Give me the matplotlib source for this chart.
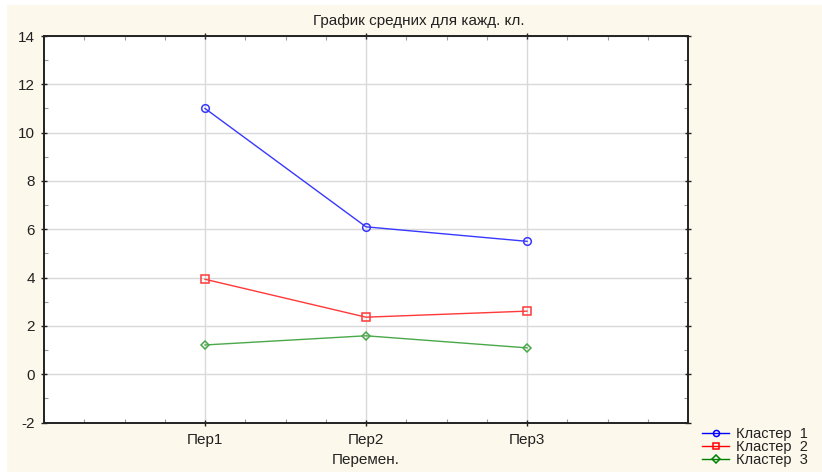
import matplotlib
matplotlib.use('Agg')
import matplotlib.pyplot as plt
from matplotlib.patches import Rectangle
from matplotlib.ticker import MultipleLocator

plt.rcParams['font.family'] = ['Liberation Sans', 'DejaVu Sans']
plt.rcParams['axes.unicode_minus'] = False

# data
variables = ['Пер1', 'Пер2', 'Пер3']
cluster1 = [11.0, 6.1, 5.5]
cluster2 = [3.93, 2.36, 2.61]
cluster3 = [1.21, 1.59, 1.09]
labels = ['Кластер  1', 'Кластер  2', 'Кластер  3']

fs = 11

fig = plt.figure(figsize=(8.22, 4.72), dpi=100, facecolor='white')
# cream panel behind everything
fig.patches.append(Rectangle((7/822, 0), 1, 1 - 5/472, transform=fig.transFigure,
                             facecolor='#fdf8ec', edgecolor='none', zorder=-10))

ax = fig.add_axes([44/822, (472-422.5)/472, (688-44)/822, (422.5-36)/472])
ax.set_facecolor('white')

xs = [1, 2, 3]
ax.plot(xs, cluster1, color='#3838ff', lw=1, marker='o', ms=5.5, mfc='none', mew=1.1, label=labels[0])
ax.plot(xs, cluster2, color='#ff3838', lw=1, marker='s', ms=5.5, mfc='none', mew=1.1, label=labels[1])
ax.plot(xs, cluster3, color='#4aa84a', lw=1, marker='D', ms=4.5, mfc='none', mew=1.1, label=labels[2])

ax.set_xlim(0, 4)
ax.set_ylim(-2, 14)
ax.set_xticks(xs)
ax.set_xticklabels(variables)
ax.set_yticks(range(-2, 15, 2))
ax.xaxis.set_minor_locator(MultipleLocator(0.25))
ax.yaxis.set_minor_locator(MultipleLocator(1))
ax.grid(True, which='major', color='#d9d9d9', lw=1)
ax.set_axisbelow(True)
for s in ax.spines.values():
    s.set_linewidth(1.4)
    s.set_color('#222222')
ax.tick_params(which='major', direction='inout', length=5, width=1, labelsize=fs,
               top=True, right=True, colors='#222222')
ax.tick_params(which='minor', direction='in', length=3, width=0.8, top=True, right=True,
               colors='#999999')
ax.tick_params(axis='x', pad=5)
ax.tick_params(axis='y', pad=4)

fig.text(0.51, 1 - 21/472, 'График средних для кажд. кл.', ha='center', va='center',
         fontsize=fs, color='#222222')
fig.text(366/822, 1 - 460/472, 'Перемен.', ha='center', va='center',
         fontsize=fs, color='#222222')

leg = fig.legend(loc='lower left', bbox_to_anchor=(692/822, -5/472), frameon=False,
                 fontsize=10.5, handlelength=1.85, handletextpad=0.48, labelspacing=-0.08,
                 borderpad=0.2, markerscale=0.8)
for t in leg.get_texts():
    t.set_color('#222222')
leg.legend_handles[0].set_color('blue')
leg.legend_handles[1].set_color('red')
leg.legend_handles[2].set_color('green')

fig.savefig('out.png', dpi=100, facecolor=fig.get_facecolor())
